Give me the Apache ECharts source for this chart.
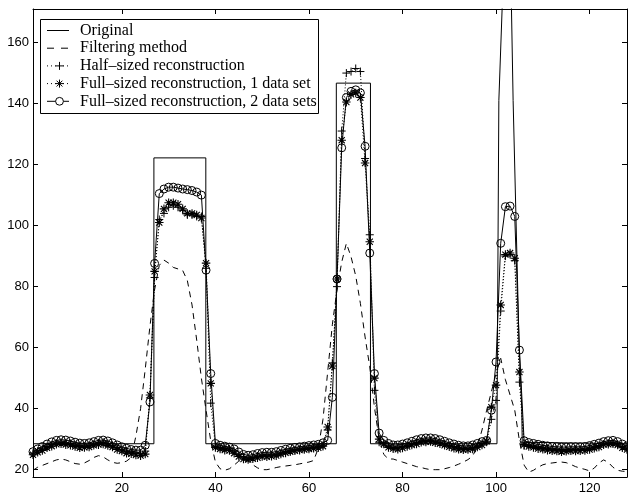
<!DOCTYPE html>
<html>
<head>
<meta charset="utf-8">
<script src="https://cdn.jsdelivr.net/npm/echarts@6/dist/echarts.min.js"></script>
<style>
html,body{margin:0;padding:0;background:#fff;}
#chart{width:628px;height:498px;}
</style>
</head>
<body>
<div id="chart"></div>
<script>
// ---------- data ----------
const xTicks = [20, 40, 60, 80, 100, 120];
const yTicks = [20, 40, 60, 80, 100, 120, 140, 160];

const legendNames = [
  'Original',
  'Filtering method',
  'Half\u2013sized reconstruction',
  'Full\u2013sized reconstruction, 1 data set',
  'Full\u2013sized reconstruction, 2 data sets'
];

// Original object profile (x, y pairs)
const originalX = [1, 26.85, 26.85, 37.95, 37.95, 65.85, 65.85, 73.15, 73.15, 100.2, 100.3, 100.6, 101.3, 101.9, 102.4, 102.9, 103.3, 103.65, 104.9, 105.5, 105.6, 105.6, 128];
const originalY = [28.5, 28.5, 122.2, 122.2, 28.5, 28.5, 146.7, 146.7, 28.5, 28.5, 62, 141, 171, 190, 198, 190, 171, 141, 62.5, 40, 29, 28.5, 28.5];

// Filtering method, samples x = 1..128
const filtering = [
  19.8, 20.8, 21.4, 22.0, 22.6, 23.2, 23.5, 23.2, 22.6, 22.0,
  21.8, 22.2, 23.0, 24.0, 24.6, 24.2, 23.2, 22.4, 22.1, 22.3,
  22.8, 24.0, 31.0, 40.0, 53.0, 67.0, 79.0, 87.0, 88.7, 87.7,
  86.3, 85.8, 85.3, 82.0, 74.0, 62.5, 50.0, 39.5, 29.5, 22.5,
  20.3, 19.8, 20.3, 21.5, 22.8, 23.4, 22.8, 21.6, 20.6, 20.0,
  20.0, 20.3, 20.7, 21.0, 21.2, 21.4, 21.6, 21.9, 22.2, 22.5,
  23.0, 27.0, 36.5, 52.0, 67.5, 79.0, 88.0, 94.2, 89.8, 83.5,
  74.5, 63.5, 53.7, 40.5, 30.0, 25.0, 23.5, 23.5, 23.0, 22.5,
  22.0, 21.5, 21.0, 20.7, 20.3, 20.0, 20.0, 20.0, 20.3, 20.7,
  21.2, 21.8, 22.5, 23.3, 24.5, 27.5, 33.0, 39.5, 45.5, 51.5,
  56.5, 49.5, 44.5, 39.5, 29.5, 21.5, 19.2, 19.8, 20.8, 21.6,
  22.0, 22.2, 22.4, 22.5, 22.3, 21.7, 21.0, 20.5, 20.1, 19.6,
  20.5, 22.2, 23.2, 22.4, 20.8, 19.8, 19.5, 19.4
];

// Half-sized reconstruction, x = 1..128
const halfSized = [
  25.4, 26.1, 26.8, 27.6, 28.2, 28.7, 29.0, 28.8, 28.6, 28.1,
  27.9, 27.7, 28.0, 28.4, 28.8, 29.0, 28.6, 28.0, 27.3, 26.7,
  26.1, 25.8, 25.5, 25.4, 26.1, 43.5, 83.0, 102.0, 104.0, 106.0,
  106.5, 106.0, 105.0, 103.5, 103.5, 103.0, 103.0, 86.0, 41.8, 27.7,
  27.3, 27.0, 26.8, 26.1, 25.0, 24.2, 23.9, 24.1, 24.5, 24.8,
  24.9, 24.9, 25.1, 25.5, 25.9, 26.2, 26.5, 26.7, 26.9, 27.1,
  27.3, 27.5, 28.0, 33.0, 55.0, 80.0, 131.0, 150.0, 150.5, 151.5,
  150.5, 122.0, 97.0, 46.0, 29.0, 28.8, 27.8, 27.3, 27.3, 27.6,
  28.0, 28.5, 29.0, 29.4, 29.6, 29.6, 29.4, 29.0, 28.5, 28.0,
  27.6, 27.2, 27.0, 27.0, 27.3, 27.8, 28.6, 29.0, 36.5, 42.7,
  72.0, 90.0, 90.5, 88.5, 48.7, 27.8, 28.1, 27.8, 27.5, 27.2,
  27.0, 26.8, 26.7, 26.6, 26.6, 26.7, 26.7, 26.7, 26.8, 27.1,
  27.5, 27.9, 28.4, 28.7, 28.8, 28.4, 27.6, 27.0
];

// Full-sized reconstruction, 1 data set, x = 1..128
const fullOne = [
  24.9, 25.7, 26.3, 27.2, 27.7, 28.3, 28.5, 28.2, 28.0, 27.6,
  27.2, 27.3, 27.4, 28.0, 28.2, 28.4, 27.9, 27.4, 26.6, 26.1,
  25.4, 25.2, 24.8, 24.6, 25.1, 44.5, 85.0, 101.0, 105.5, 107.5,
  107.5, 107.0, 105.5, 104.0, 104.0, 103.5, 102.5, 87.7, 48.3, 27.3,
  26.8, 26.4, 26.3, 25.4, 24.3, 23.5, 23.3, 23.6, 23.9, 24.3,
  24.2, 24.4, 24.6, 25.1, 25.5, 25.9, 26.2, 26.4, 26.6, 26.8,
  27.0, 27.2, 27.7, 34.0, 54.0, 82.5, 128.0, 140.5, 143.0, 143.5,
  142.0, 120.5, 94.7, 50.0, 30.0, 28.4, 27.3, 26.9, 26.7, 27.1,
  27.6, 28.1, 28.4, 29.0, 29.1, 29.2, 28.8, 28.5, 28.0, 27.5,
  27.0, 26.7, 26.5, 26.6, 26.8, 27.4, 28.1, 29.3, 40.5, 47.7,
  74.0, 90.5, 91.0, 89.3, 52.0, 28.2, 27.6, 27.3, 26.9, 26.7,
  26.4, 26.2, 26.1, 25.9, 26.0, 26.2, 26.1, 26.2, 26.3, 26.6,
  27.0, 27.4, 28.2, 28.3, 28.5, 28.1, 27.2, 26.6
];

// Full-sized reconstruction, 2 data sets, x = 1..128
const fullTwo = [
  25.9, 26.8, 27.6, 28.4, 29.1, 29.6, 29.8, 29.7, 29.4, 29.0,
  28.7, 28.6, 28.8, 29.2, 29.6, 29.7, 29.4, 28.8, 28.1, 27.5,
  27.0, 26.6, 26.4, 26.4, 28.0, 42.2, 87.6, 110.5, 112.0, 112.6,
  112.6, 112.3, 112.0, 111.8, 111.5, 111.0, 110.0, 85.4, 51.5, 28.6,
  28.0, 27.7, 27.4, 26.8, 25.8, 25.0, 24.7, 24.9, 25.3, 25.6,
  25.7, 25.7, 25.9, 26.3, 26.7, 27.0, 27.3, 27.5, 27.7, 27.9,
  28.1, 28.3, 28.8, 29.6, 43.7, 82.5, 125.5, 142.0, 144.0, 144.5,
  143.5, 126.0, 91.0, 51.5, 32.0, 29.6, 28.6, 28.1, 28.1, 28.4,
  28.8, 29.3, 29.8, 30.2, 30.4, 30.4, 30.2, 29.8, 29.3, 28.8,
  28.4, 28.0, 27.8, 27.8, 28.1, 28.6, 29.2, 29.6, 39.5, 55.3,
  94.2, 106.2, 106.4, 103.0, 59.2, 29.5, 28.9, 28.6, 28.3, 28.0,
  27.8, 27.6, 27.5, 27.4, 27.4, 27.5, 27.5, 27.5, 27.6, 27.9,
  28.3, 28.7, 29.2, 29.5, 29.6, 29.2, 28.4, 27.8
];

// ---------- chart ----------
const indexed = arr => arr.map((v, i) => [i + 1, v]);
const originalData = originalX.map((x, i) => [x, originalY[i]]);

const PLUS = 'path://M0,-5L0,5M-5,0L5,0';
const STAR = 'path://M0,-5L0,5M-5,0L5,0M-3.6,-3.6L3.6,3.6M-3.6,3.6L3.6,-3.6';

const LABEL_FONT = 'Liberation Sans, Arial, Helvetica, sans-serif';
const SERIF = 'Liberation Serif, Times New Roman, serif';

const axisCommon = {
  axisLine: { show: true, onZero: false, lineStyle: { color: '#000', width: 1 } },
  splitLine: { show: false }
};

const chart = echarts.init(document.getElementById('chart'), null, { renderer: 'canvas' });

// legend (drawn as graphic elements)
const lgX0 = 47, lgX1 = 69, lgMid = 59.5, lgTextX = 80;
const rowY = [30.5, 48.2, 65.9, 83.6, 101.3];
const lg = [];
lg.push({ type: 'rect', shape: { x: 40.5, y: 19.5, width: 278, height: 94 },
  style: { fill: '#fff', stroke: '#000', lineWidth: 1 }, z: 100 });
lg.push({ type: 'line', shape: { x1: lgX0, y1: rowY[0], x2: lgX1, y2: rowY[0] }, style: { stroke: '#000', lineWidth: 1 }, z: 101 });
lg.push({ type: 'line', shape: { x1: lgX0, y1: rowY[1], x2: lgX1, y2: rowY[1] }, style: { stroke: '#000', lineWidth: 1, lineDash: [7, 7] }, z: 101 });
lg.push({ type: 'line', shape: { x1: lgX0, y1: rowY[2], x2: lgX1, y2: rowY[2] }, style: { stroke: '#000', lineWidth: 1, lineDash: [1, 3] }, z: 101 });
lg.push({ type: 'line', shape: { x1: lgMid - 4, y1: rowY[2], x2: lgMid + 4, y2: rowY[2] }, style: { stroke: '#000', lineWidth: 1 }, z: 102 });
lg.push({ type: 'line', shape: { x1: lgMid, y1: rowY[2] - 4, x2: lgMid, y2: rowY[2] + 4 }, style: { stroke: '#000', lineWidth: 1 }, z: 102 });
lg.push({ type: 'line', shape: { x1: lgX0, y1: rowY[3], x2: lgX1, y2: rowY[3] }, style: { stroke: '#000', lineWidth: 1, lineDash: [1, 3] }, z: 101 });
[[0, -4, 0, 4], [-4, 0, 4, 0], [-2.9, -2.9, 2.9, 2.9], [-2.9, 2.9, 2.9, -2.9]].forEach(s => {
  lg.push({ type: 'line', shape: { x1: lgMid + s[0], y1: rowY[3] + s[1], x2: lgMid + s[2], y2: rowY[3] + s[3] }, style: { stroke: '#000', lineWidth: 1 }, z: 102 });
});
lg.push({ type: 'line', shape: { x1: lgX0, y1: rowY[4], x2: lgX1, y2: rowY[4] }, style: { stroke: '#000', lineWidth: 1 }, z: 101 });
lg.push({ type: 'circle', shape: { cx: lgMid, cy: rowY[4], r: 3.9 }, style: { fill: '#fff', stroke: '#000', lineWidth: 1 }, z: 102 });
legendNames.forEach((name, i) => {
  lg.push({ type: 'text', x: lgTextX, y: rowY[i], z: 103,
    style: { text: name, fill: '#000', font: '16px ' + SERIF, textVerticalAlign: 'middle', textAlign: 'left' } });
});

const option = {
  animation: false,
  backgroundColor: '#fff',
  grid: { left: 33, right: 1, top: 9, bottom: 21, containLabel: false, outerBoundsMode: 'none' },
  xAxis: [
    Object.assign({}, axisCommon, {
      type: 'value', position: 'bottom', min: 1, max: 128,
      axisTick: { show: true, inside: true, length: 5, customValues: xTicks, lineStyle: { color: '#000' } },
      axisLabel: { show: true, customValues: xTicks, margin: 5, color: '#000', fontSize: 13, fontFamily: LABEL_FONT }
    }),
    Object.assign({}, axisCommon, {
      type: 'value', position: 'top', min: 1, max: 128,
      axisTick: { show: true, inside: true, length: 5, customValues: xTicks, lineStyle: { color: '#000' } },
      axisLabel: { show: false }
    })
  ],
  yAxis: [
    Object.assign({}, axisCommon, {
      type: 'value', position: 'left', min: 17.6, max: 171,
      axisTick: { show: true, inside: true, length: 5, customValues: yTicks, lineStyle: { color: '#000' } },
      axisLabel: { show: true, customValues: yTicks, margin: 4, color: '#000', fontSize: 13, fontFamily: LABEL_FONT }
    }),
    Object.assign({}, axisCommon, {
      type: 'value', position: 'right', min: 17.6, max: 171,
      axisTick: { show: true, inside: true, length: 5, customValues: yTicks, lineStyle: { color: '#000' } },
      axisLabel: { show: false }
    })
  ],
  series: [
    {
      name: legendNames[0], type: 'line', data: originalData, showSymbol: false, symbol: 'none',
      lineStyle: { color: '#000', width: 1 }, itemStyle: { color: '#000' }, clip: true, silent: true, z: 2
    },
    {
      name: legendNames[1], type: 'line', data: indexed(filtering), showSymbol: false, symbol: 'none',
      lineStyle: { color: '#000', width: 1, type: [6, 5] }, itemStyle: { color: '#000' }, clip: true, silent: true, z: 2
    },
    {
      name: legendNames[2], type: 'line', data: indexed(halfSized), symbol: PLUS, symbolSize: 8,
      lineStyle: { color: '#000', width: 1, type: [1, 2] },
      itemStyle: { color: 'none', borderColor: '#000', borderWidth: 1 }, clip: true, silent: true, z: 3
    },
    {
      name: legendNames[3], type: 'line', data: indexed(fullOne), symbol: STAR, symbolSize: 8.5,
      lineStyle: { color: '#000', width: 1, type: [1, 2] },
      itemStyle: { color: 'none', borderColor: '#000', borderWidth: 1.1 }, clip: true, silent: true, z: 3
    },
    {
      name: legendNames[4], type: 'line', data: indexed(fullTwo), symbol: 'circle', symbolSize: 8,
      lineStyle: { color: '#000', width: 1 },
      itemStyle: { color: 'none', borderColor: '#000', borderWidth: 1 }, clip: true, silent: true, z: 3
    }
  ],
  graphic: { elements: lg }
};

chart.setOption(option);
</script>
</body>
</html>
